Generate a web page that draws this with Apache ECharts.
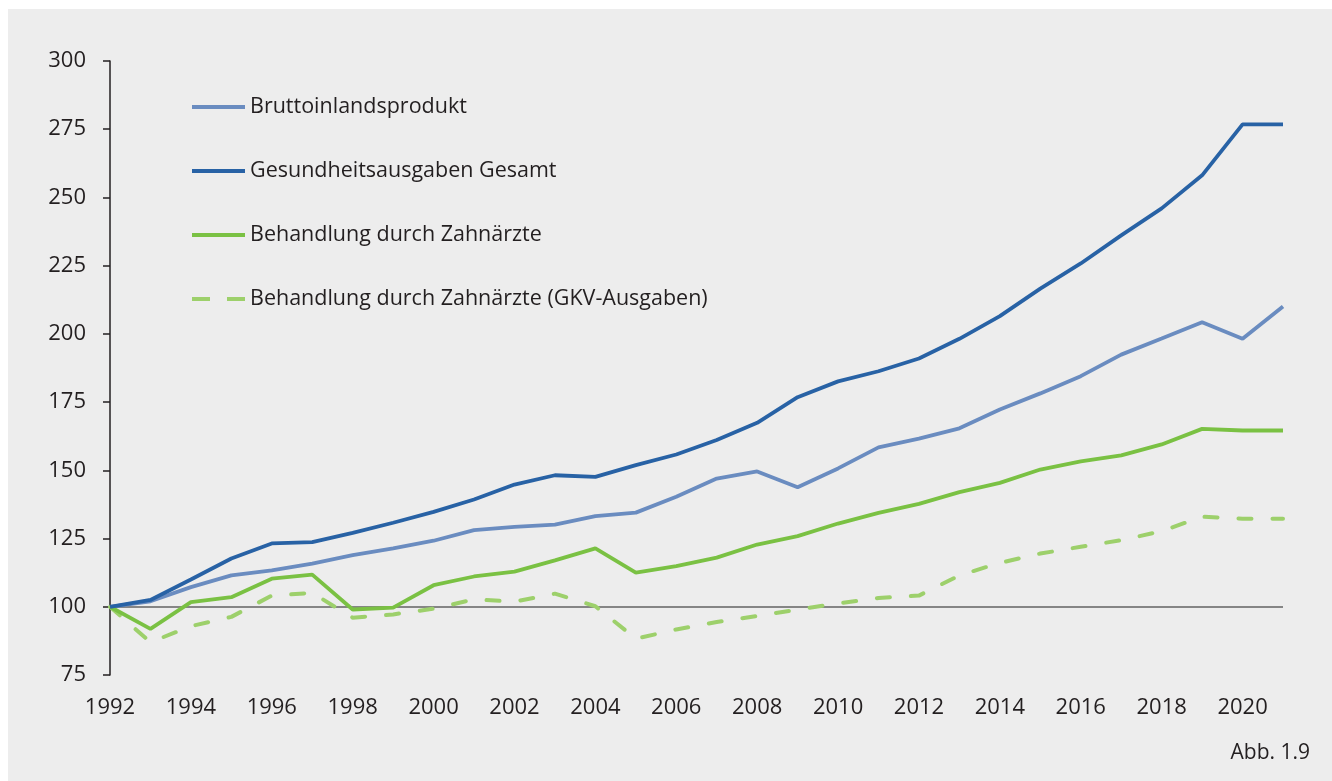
<!DOCTYPE html>
<html>
<head>
<meta charset="utf-8">
<script src="https://cdn.jsdelivr.net/npm/echarts@6/dist/echarts.min.js"></script>
<style>
  html, body { margin: 0; padding: 0; background: #fff; }
  #main { width: 1332px; height: 781px; }
</style>
</head>
<body>
<div id="main"></div>
<script>
// Daten (Index 1992 = 100)
var years = [];
for (var y = 1992; y <= 2021; y++) years.push(String(y));

var seriesNames = [
  'Bruttoinlandsprodukt',
  'Gesundheitsausgaben Gesamt',
  'Behandlung durch Zahnärzte',
  'Behandlung durch Zahnärzte (GKV-Ausgaben)'
];

var bip = [100, 102, 107.2, 111.5, 113.3, 115.8, 118.9, 121.4, 124.2, 128.1,
  129.3, 130.1, 133.2, 134.5, 140.3, 147.0, 149.6, 143.8, 150.7, 158.4,
  161.6, 165.4, 172.3, 178.2, 184.5, 192.4, 198.3, 204.3, 198.2, 210.0];

var gesamt = [100, 102.5, 110, 117.7, 123.2, 123.7, 127.1, 130.8, 134.8, 139.3,
  144.8, 148.2, 147.6, 151.9, 155.8, 161.1, 167.4, 176.8, 182.6, 186.3,
  191.0, 198.2, 206.5, 216.6, 225.8, 236.1, 246.0, 258.1, 276.8, 276.8];

var zahn = [100, 91.9, 101.7, 103.5, 110.3, 111.8, 99.0, 99.7, 107.9, 111.1,
  112.9, 117.0, 121.4, 112.5, 114.9, 118.0, 122.8, 125.9, 130.5, 134.4,
  137.7, 142.0, 145.4, 150.3, 153.3, 155.5, 159.5, 165.2, 164.6, 164.6];

var zahnGkv = [100, 87.0, 92.9, 96.3, 104.1, 105.1, 96.0, 97.2, 99.3, 102.7,
  101.9, 104.8, 100.2, 88.3, 91.7, 94.4, 96.6, 99.0, 101.2, 103.2,
  104.1, 111.5, 116.1, 119.5, 122.0, 124.4, 127.7, 133.0, 132.3, 132.3];

var yTicks = [75, 100, 125, 150, 175, 200, 225, 250, 275, 300];

var FONT = '"Open Sans", "Noto Sans", sans-serif';
var TXT = '#231f20';
var colors = ['#6a8cc0', '#2862a5', '#7ac143', '#9dd06b'];

var solidIcon = 'path://M0,0h53v4h-53z';
var dashIcon = 'path://M0,0h18v4h-18z M35,0h18v4h-18z';

var myChart = echarts.init(document.getElementById('main'));

var option = {
  backgroundColor: '#ffffff',
  animation: false,
  textStyle: { fontFamily: FONT },
  graphic: [{
    type: 'rect',
    left: 8, top: 9,
    shape: { width: 1324, height: 772 },
    style: { fill: '#ededed' },
    z: -10, silent: true
  }, {
    type: 'text',
    right: 22, top: 743,
    style: { text: 'Abb. 1.9', fill: TXT, font: '21px ' + FONT },
    z: 10
  }],
  grid: { left: 110, top: 61, right: 49, bottom: 106 },
  legend: {
    orient: 'vertical',
    left: 192,
    top: 96,
    padding: 0,
    itemWidth: 53,
    itemHeight: 4,
    itemGap: 42,
    textStyle: { fontSize: 21.5, color: TXT, fontFamily: FONT },
    data: [
      { name: seriesNames[0], icon: solidIcon },
      { name: seriesNames[1], icon: solidIcon },
      { name: seriesNames[2], icon: solidIcon },
      { name: seriesNames[3], icon: dashIcon }
    ]
  },
  xAxis: {
    type: 'category',
    boundaryGap: false,
    data: years,
    axisLine: { show: false },
    axisTick: { show: false },
    axisLabel: { interval: 1, fontSize: 22, color: TXT, margin: 22, fontFamily: FONT },
    splitLine: { show: false }
  },
  yAxis: {
    type: 'value',
    min: yTicks[0],
    max: yTicks[yTicks.length - 1],
    interval: 25,
    axisLine: { show: true, lineStyle: { color: TXT, width: 1.5 } },
    axisTick: { show: true, length: 7, lineStyle: { color: TXT, width: 1.5 } },
    axisLabel: { fontSize: 22, color: TXT, margin: 24, fontFamily: FONT },
    splitLine: { show: false }
  },
  series: [{
    name: seriesNames[0],
    type: 'line',
    data: bip,
    symbol: 'none',
    color: colors[0],
    lineStyle: { width: 3.8, color: colors[0] },
    z: 3,
    markLine: {
      silent: true,
      symbol: 'none',
      label: { show: false },
      lineStyle: { color: '#858585', width: 2.2, type: 'solid' },
      data: [{ yAxis: 100 }],
      z: 1
    }
  }, {
    name: seriesNames[1],
    type: 'line',
    data: gesamt,
    symbol: 'none',
    color: colors[1],
    lineStyle: { width: 3.8, color: colors[1] },
    z: 4
  }, {
    name: seriesNames[2],
    type: 'line',
    data: zahn,
    symbol: 'none',
    color: colors[2],
    lineStyle: { width: 3.8, color: colors[2] },
    z: 3
  }, {
    name: seriesNames[3],
    type: 'line',
    data: zahnGkv,
    symbol: 'none',
    color: colors[3],
    lineStyle: { width: 4, color: colors[3], type: [13, 21], cap: 'round' },
    z: 2
  }]
};

myChart.setOption(option);
</script>
</body>
</html>
